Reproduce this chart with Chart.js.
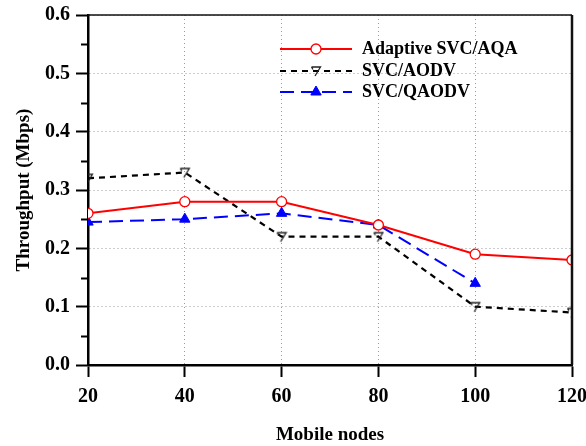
<!DOCTYPE html>
<html>
<head>
<meta charset="utf-8">
<script src="https://cdn.jsdelivr.net/npm/chart.js@4/dist/chart.umd.min.js"></script>
<style>
  html, body { margin: 0; padding: 0; background: #fff; }
  #wrap { width: 586px; height: 446px; }
</style>
</head>
<body>
<div id="wrap"><canvas id="throughputChart" width="586" height="446"></canvas></div>
<script>
const nodes = [20, 40, 60, 80, 100, 120];
const adaptiveAqa = [0.26, 0.28, 0.28, 0.24, 0.19, 0.18];
const svcAodv = [0.32, 0.33, 0.22, 0.22, 0.10, 0.09];
const svcQaodv = [0.245, 0.25, 0.26, 0.24, 0.14];
const yTicks = [0, 0.1, 0.2, 0.3, 0.4, 0.5, 0.6];
const xTicks = [20, 40, 60, 80, 100, 120];

const FONT = '"Liberation Serif", "Times New Roman", serif';

// small "7"-like open down triangle used for SVC/AODV
function sevenMarker() {
    const c = document.createElement('canvas');
    c.width = 12; c.height = 12;
    const g = c.getContext('2d');
    g.strokeStyle = '#222';
    g.lineWidth = 1.3;
    g.beginPath();
    g.moveTo(1.5, 2);
    g.lineTo(10.5, 2);
    g.lineTo(5, 11);
    g.moveTo(1.5, 2);
    g.lineTo(3, 4.5);
    g.stroke();
    return c;
}
const aodvMarker = sevenMarker();

const toXY = (vals) => vals.map((v, i) => ({ x: nodes[i], y: v }));

const pointOpts = (ds) => ({
    pointStyle: ds.pointStyle,
    radius: ds.pointRadius,
    borderWidth: ds.pointBorderWidth,
    rotation: 0
});

// minor y ticks, plot frame and the legend box
const extras = {
    id: 'extras',
    afterDraw(chart) {
        const { ctx, chartArea: a, scales } = chart;
        const y = scales.y;
        ctx.save();
        ctx.strokeStyle = '#000';
        ctx.lineWidth = 2;
        for (let v = 0.05; v < 0.6; v += 0.1) {
            const py = Math.round(y.getPixelForValue(v)) + 0.5;
            ctx.beginPath();
            ctx.moveTo(a.left - 7, py);
            ctx.lineTo(a.left, py);
            ctx.stroke();
        }
        // top and right edges
        ctx.strokeStyle = '#111';
        ctx.lineWidth = 1.5;
        ctx.beginPath();
        ctx.moveTo(a.left, a.top);
        ctx.lineTo(a.right, a.top);
        ctx.stroke();
        ctx.lineWidth = 2.5;
        ctx.beginPath();
        ctx.moveTo(a.right, a.top);
        ctx.lineTo(a.right, a.bottom);
        ctx.stroke();

        // legend
        const rows = [49, 71, 92];
        ctx.font = 'bold 18px ' + FONT;
        ctx.textBaseline = 'middle';
        ctx.textAlign = 'left';
        chart.data.datasets.forEach((ds, i) => {
            const ly = rows[i];
            ctx.strokeStyle = ds.borderColor;
            ctx.lineWidth = ds.borderWidth;
            ctx.setLineDash(ds.borderDash || []);
            ctx.beginPath();
            ctx.moveTo(280, ly);
            ctx.lineTo(352, ly);
            ctx.stroke();
            ctx.setLineDash([]);
            ctx.fillStyle = ds.pointBackgroundColor;
            ctx.strokeStyle = ds.pointBorderColor;
            ctx.lineWidth = ds.pointBorderWidth;
            Chart.helpers.drawPoint(ctx, pointOpts(ds), 316, ly);
            ctx.fillStyle = '#000';
            ctx.fillText(ds.label, 362, ly);
        });
        ctx.restore();
    }
};

const axisGrid = {
    color: '#9a9a9a',
    lineWidth: 1,
    tickLength: 12,
    tickColor: '#000',
    tickWidth: 2,
    tickBorderDash: []
};

new Chart(document.getElementById('throughputChart'), {
    type: 'line',
    data: {
        datasets: [{
            label: 'Adaptive SVC/AQA',
            data: toXY(adaptiveAqa),
            borderColor: '#ff0000',
            borderWidth: 2,
            pointStyle: 'circle',
            pointRadius: 5,
            pointBackgroundColor: '#ffffff',
            pointBorderColor: '#ff0000',
            pointBorderWidth: 1.3,
            tension: 0
        }, {
            label: 'SVC/AODV',
            data: toXY(svcAodv),
            borderColor: '#000000',
            borderWidth: 2.2,
            borderDash: [6, 5],
            pointStyle: aodvMarker,
            pointRadius: 6,
            pointBackgroundColor: '#000',
            pointBorderColor: '#000',
            pointBorderWidth: 1,
            tension: 0
        }, {
            label: 'SVC/QAODV',
            data: toXY(svcQaodv),
            borderColor: '#0000ff',
            borderWidth: 2,
            borderDash: [14, 7],
            pointStyle: 'triangle',
            pointRadius: 6,
            pointBackgroundColor: '#0000ff',
            pointBorderColor: '#0000ff',
            pointBorderWidth: 1,
            tension: 0
        }]
    },
    options: {
        responsive: false,
        animation: false,
        layout: { padding: { top: 15, right: 14, left: 0, bottom: 0 } },
        plugins: { legend: { display: false }, tooltip: { enabled: false } },
        scales: {
            x: {
                type: 'linear',
                min: 20,
                max: 120,
                afterBuildTicks: (s) => { s.ticks = xTicks.map(v => ({ value: v })); },
                afterFit: (s) => { s.height = 81; s.paddingLeft = 0; s.paddingRight = 0; },
                grid: axisGrid,
                border: { color: '#000', width: 2.5, dash: [1, 3] },
                ticks: {
                    color: '#000',
                    padding: 8,
                    font: { family: FONT, size: 20, weight: 'bold' }
                },
                title: {
                    display: true,
                    text: 'Mobile nodes',
                    color: '#000',
                    padding: 0,
                    font: { family: FONT, size: 19, weight: 'bold' }
                }
            },
            y: {
                min: 0,
                max: 0.6,
                afterBuildTicks: (s) => { s.ticks = yTicks.map(v => ({ value: v })); },
                afterFit: (s) => { s.width = 88; s.paddingTop = 0; s.paddingBottom = 0; },
                grid: axisGrid,
                border: { color: '#000', width: 2.5, dash: [1, 3] },
                ticks: {
                    color: '#000',
                    padding: 6,
                    font: { family: FONT, size: 20, weight: 'bold' },
                    callback: (v) => v.toFixed(1)
                },
                title: {
                    display: true,
                    text: 'Throughput (Mbps)',
                    color: '#000',
                    padding: { top: 13, bottom: 0 },
                    font: { family: FONT, size: 19, weight: 'bold' }
                }
            }
        }
    },
    plugins: [extras]
});
</script>
</body>
</html>
